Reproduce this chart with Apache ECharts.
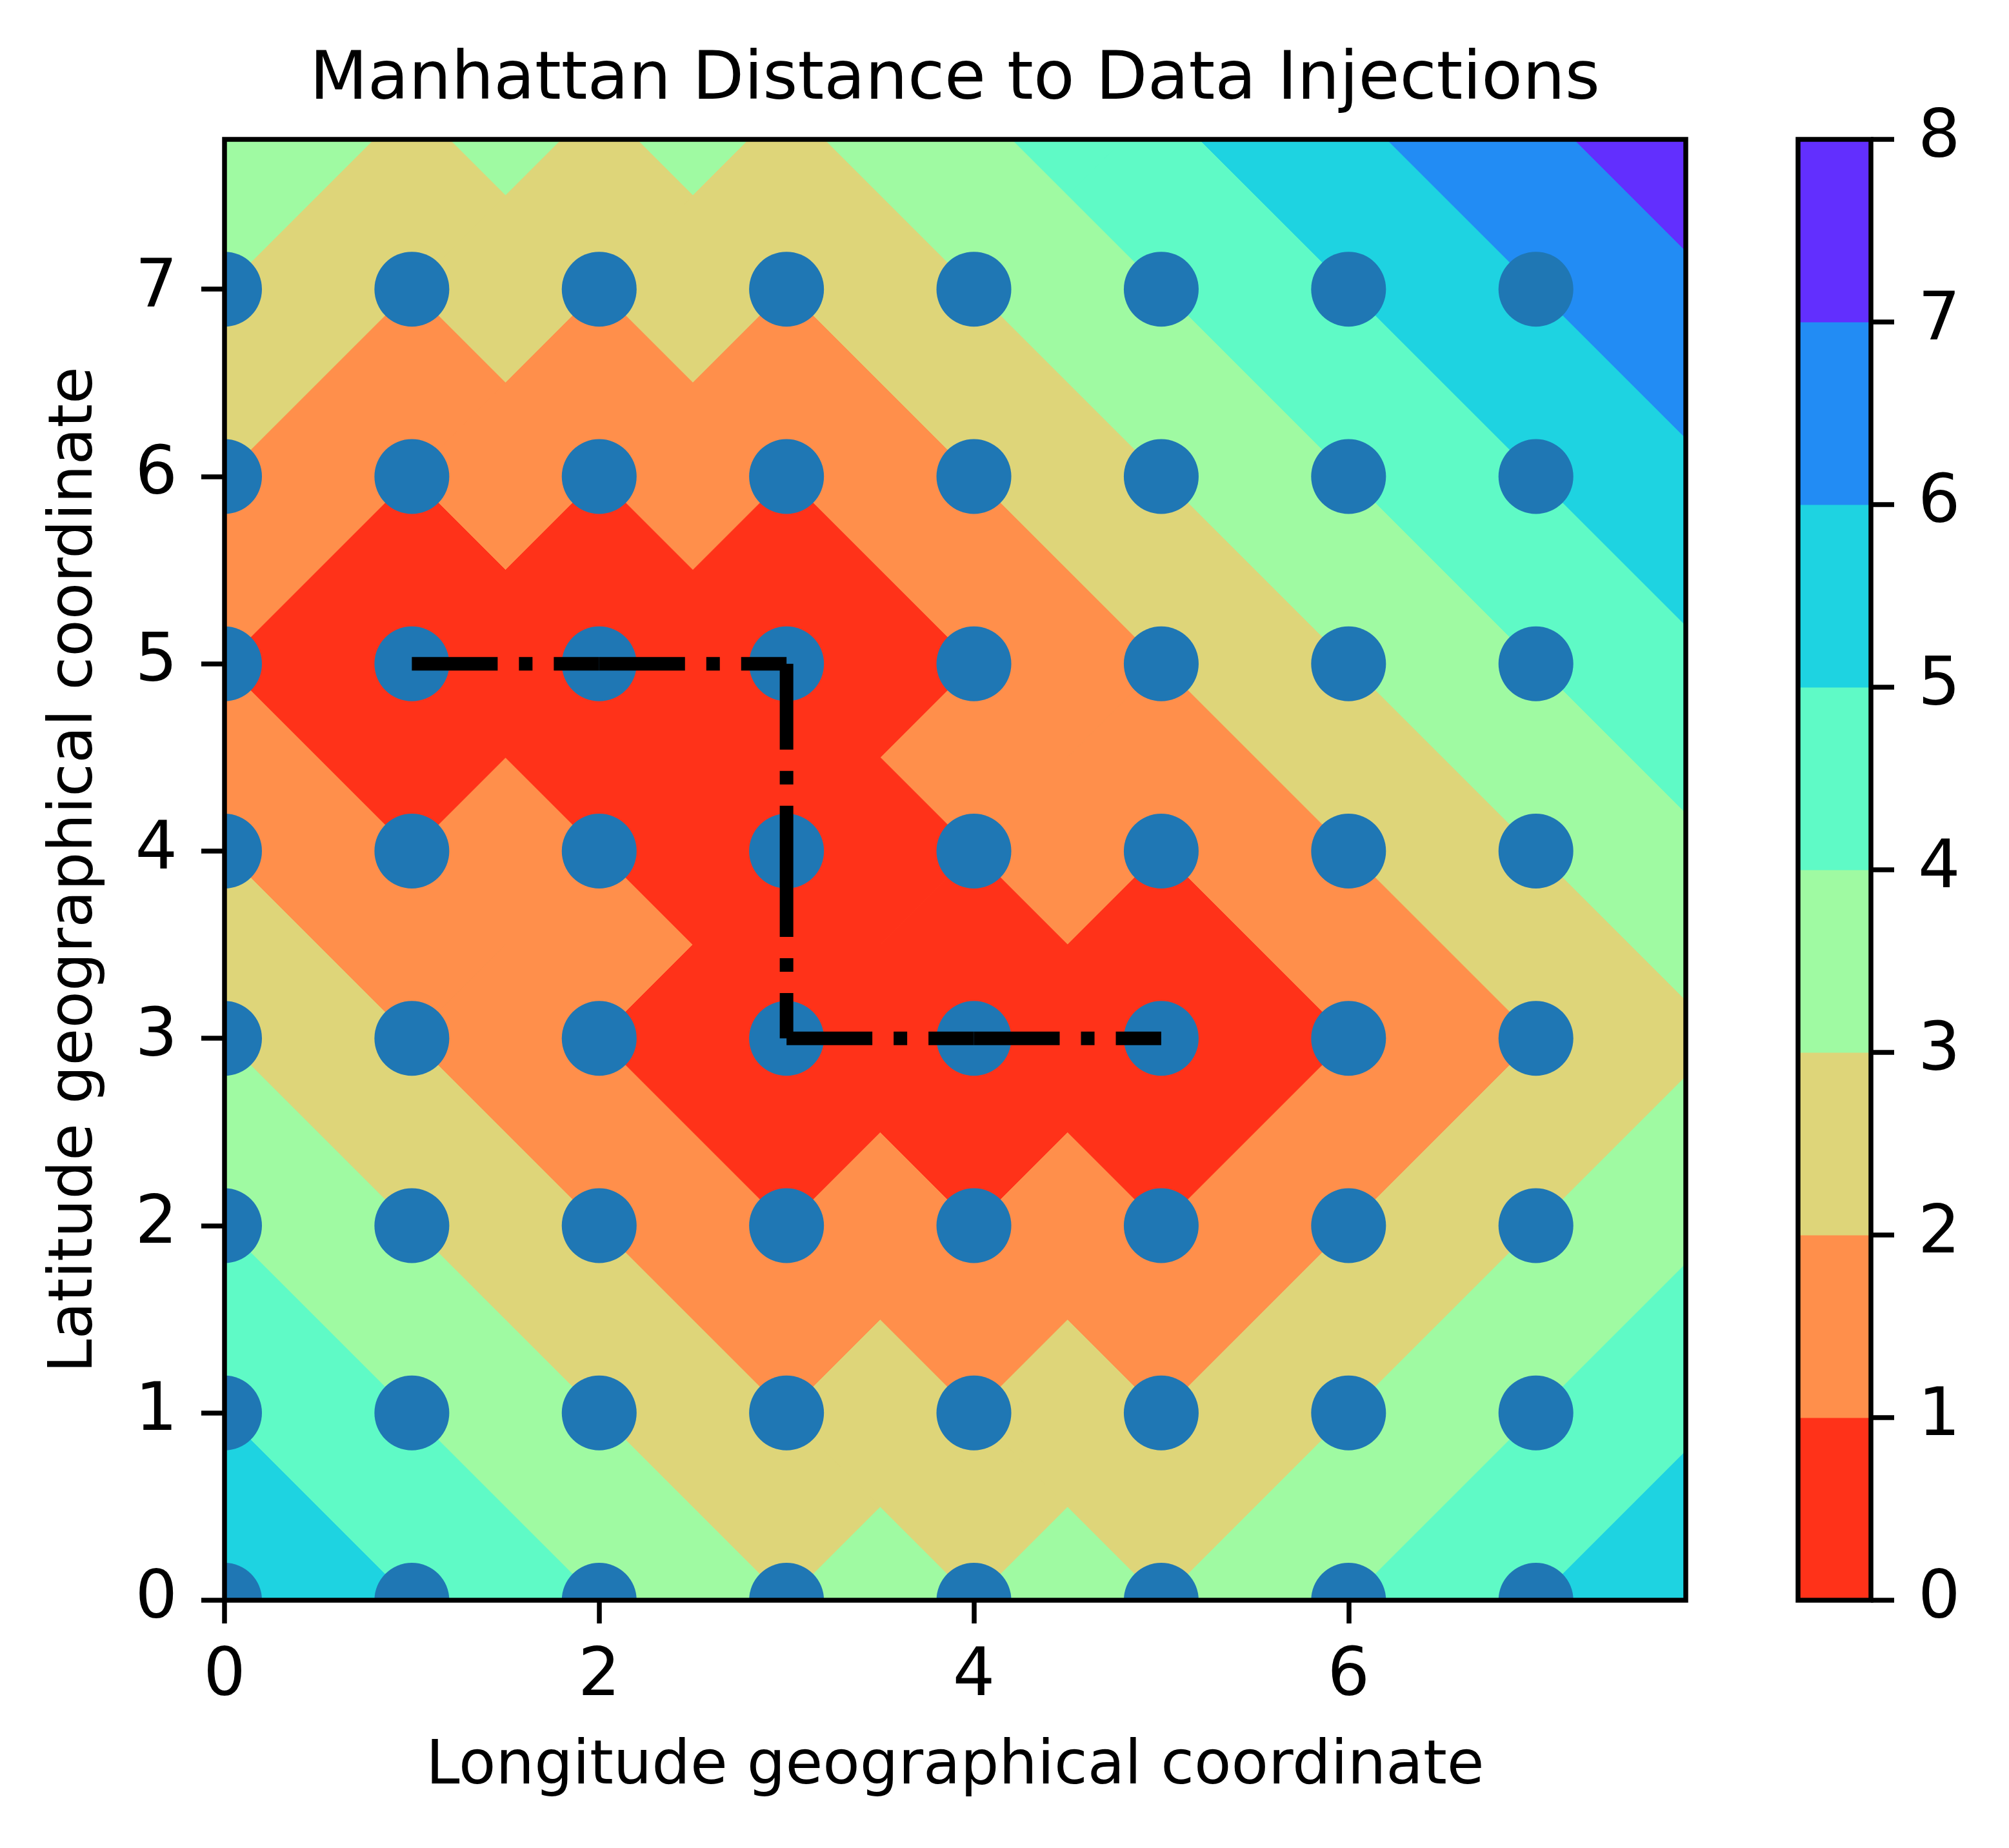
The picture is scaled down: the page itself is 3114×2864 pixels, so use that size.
<!DOCTYPE html>
<html><head><meta charset="utf-8">
<script src="https://cdn.jsdelivr.net/npm/echarts@6/dist/echarts.min.js"></script>
<style>html,body{margin:0;padding:0;background:#fff}#c{width:3114px;height:2864px}</style>
</head><body><div id="c"></div>
<script>
// ---------- data ----------
const chartTitle = 'Manhattan Distance to Data Injections';
const xName = 'Longitude geographical coordinate';
const yName = 'Latitude geographical coordinate';
// data-injection path (points visited, in order)
const injectionX = [1, 2, 3, 3, 3, 4, 5];
const injectionY = [5, 5, 5, 4, 3, 3, 3];
// sampled grid locations (blue dots)
const gridXs = [0, 1, 2, 3, 4, 5, 6, 7];
const gridYs = [0, 1, 2, 3, 4, 5, 6, 7];
// contour levels and band colours (rainbow_r)
const levels = [0, 1, 2, 3, 4, 5, 6, 7, 8];
const bandColors = ['#ff3219', '#ff8f4b', '#ded579', '#9ffaa2', '#5ffac6', '#1ed3e1', '#228cf4', '#622ffe'];
// axis extents and tick labels
const xMax = 7.8, yMax = 7.8;
const xTicks = [0, 2, 4, 6];
const yTicks = [0, 1, 2, 3, 4, 5, 6, 7];
const cbTicks = [0, 1, 2, 3, 4, 5, 6, 7, 8];

// ---------- helpers ----------
const FONT = 'DejaVu Sans';
function clipPoly(pts, x0, x1, y0, y1) {
  const edges = [
    [p => p[0] >= x0, (a, b) => { const t = (x0 - a[0]) / (b[0] - a[0]); return [x0, a[1] + t * (b[1] - a[1])]; }],
    [p => p[0] <= x1, (a, b) => { const t = (x1 - a[0]) / (b[0] - a[0]); return [x1, a[1] + t * (b[1] - a[1])]; }],
    [p => p[1] >= y0, (a, b) => { const t = (y0 - a[1]) / (b[1] - a[1]); return [a[0] + t * (b[0] - a[0]), y0]; }],
    [p => p[1] <= y1, (a, b) => { const t = (y1 - a[1]) / (b[1] - a[1]); return [a[0] + t * (b[0] - a[0]), y1]; }]
  ];
  let out = pts;
  for (const [inside, inter] of edges) {
    const inp = out; out = [];
    if (!inp.length) break;
    for (let i = 0; i < inp.length; i++) {
      const cur = inp[i], prev = inp[(i + inp.length - 1) % inp.length];
      const ci = inside(cur), pi = inside(prev);
      if (ci) { if (!pi) out.push(inter(prev, cur)); out.push(cur); }
      else if (pi) out.push(inter(prev, cur));
    }
  }
  return out;
}

// contour bands: region {d < L} is the union of Manhattan diamonds of radius L
const contourData = [];
for (let li = levels.length - 1; li >= 1; li--) {
  for (let k = 0; k < injectionX.length; k++) contourData.push([levels[li], k, li - 1]);
}
const dotData = [];
for (const y of gridYs) for (const x of gridXs) dotData.push([x, y]);
const segData = [];
for (let k = 0; k + 1 < injectionX.length; k++) segData.push([injectionX[k], injectionY[k], injectionX[k + 1], injectionY[k + 1]]);
const cbData = [];
for (let i = 0; i + 1 < levels.length; i++) cbData.push([levels[i], levels[i + 1], i]);

const tickStyle = { color: '#000', width: 7.5 };
const labelStyle = { color: '#000', fontSize: 103, fontFamily: FONT };
const nameStyle = { color: '#000', fontSize: 94, fontFamily: FONT };

const chart = echarts.init(document.getElementById('c'), null, { renderer: 'canvas' });
chart.setOption({
  animation: false,
  backgroundColor: '#fff',
  title: {
    text: chartTitle, left: 1480, top: 74, textAlign: 'center', padding: 0,
    textStyle: { color: '#000', fontSize: 104, fontWeight: 'normal', fontFamily: FONT }
  },
  grid: [
    { left: 348, top: 216, width: 2265, height: 2264, show: true, z: 10, borderColor: '#000', borderWidth: 7.5, backgroundColor: 'rgba(0,0,0,0)', containLabel: false, outerBoundsMode: 'none' },
    { left: 2787, top: 216, width: 113, height: 2264, show: true, z: 10, borderColor: '#000', borderWidth: 7.5, backgroundColor: 'rgba(0,0,0,0)', containLabel: false, outerBoundsMode: 'none' }
  ],
  xAxis: [
    {
      gridIndex: 0, type: 'value', min: 0, max: xMax, position: 'bottom', z: 10,
      axisLine: { show: false, onZero: false },
      axisTick: { show: true, inside: false, length: 36, lineStyle: tickStyle, customValues: xTicks },
      axisLabel: Object.assign({ customValues: xTicks, margin: 69 }, labelStyle),
      splitLine: { show: false },
      name: xName, nameLocation: 'middle', nameGap: 213, nameMoveOverlap: false, nameTextStyle: nameStyle
    },
    { gridIndex: 1, type: 'value', min: 0, max: 1, show: false, axisLine: { onZero: false } }
  ],
  yAxis: [
    {
      gridIndex: 0, type: 'value', min: 0, max: yMax, position: 'left', z: 10,
      axisLine: { show: false, onZero: false },
      axisTick: { show: true, inside: false, length: 36, lineStyle: tickStyle, customValues: yTicks },
      axisLabel: Object.assign({ customValues: yTicks, margin: 73, padding: [20, 0, 0, 0] }, labelStyle),
      splitLine: { show: false },
      name: yName, nameLocation: 'middle', nameGap: 183, nameRotate: 90, nameMoveOverlap: false, nameTextStyle: nameStyle
    },
    {
      gridIndex: 1, type: 'value', min: 0, max: 8, interval: 1, position: 'right', z: 10,
      axisLine: { show: false, onZero: false },
      axisTick: { show: true, inside: false, length: 36, lineStyle: tickStyle, customValues: cbTicks },
      axisLabel: Object.assign({ customValues: cbTicks, margin: 73, padding: [24, 0, 0, 0] }, labelStyle),
      splitLine: { show: false }
    }
  ],
  series: [
    {
      name: 'distance', type: 'custom', xAxisIndex: 0, yAxisIndex: 0, silent: true, clip: true,
      data: contourData,
      renderItem: function (params, api) {
        const L = api.value(0), k = api.value(1), ci = api.value(2);
        const cx = injectionX[k], cy = injectionY[k];
        const poly = clipPoly([[cx - L, cy], [cx, cy + L], [cx + L, cy], [cx, cy - L]], 0, xMax, 0, yMax);
        if (poly.length < 3) return null;
        return {
          type: 'polygon',
          shape: { points: poly.map(p => api.coord(p)) },
          style: { fill: bandColors[ci], stroke: bandColors[ci], lineWidth: 1 }
        };
      }
    },
    {
      name: 'grid points', type: 'custom', xAxisIndex: 0, yAxisIndex: 0, silent: true, clip: true,
      data: dotData,
      renderItem: function (params, api) {
        const p = api.coord([api.value(0), api.value(1)]);
        return { type: 'circle', shape: { cx: p[0], cy: p[1], r: 58 }, style: { fill: '#1f77b4' } };
      }
    },
    {
      name: 'path', type: 'custom', xAxisIndex: 0, yAxisIndex: 0, silent: true,
      data: segData,
      renderItem: function (params, api) {
        const a = api.coord([api.value(0), api.value(1)]);
        const b = api.coord([api.value(2), api.value(3)]);
        return {
          type: 'line',
          shape: { x1: a[0], y1: a[1], x2: b[0], y2: b[1] },
          style: { stroke: '#000', lineWidth: 21, lineDash: [133, 33, 21, 33], lineCap: 'butt', fill: null }
        };
      }
    },
    {
      name: 'colorbar', type: 'custom', xAxisIndex: 1, yAxisIndex: 1, silent: true,
      data: cbData,
      renderItem: function (params, api) {
        const p0 = api.coord([0, api.value(0)]);
        const p1 = api.coord([1, api.value(1)]);
        const c = bandColors[api.value(2)];
        return {
          type: 'rect',
          shape: { x: p0[0], y: p1[1], width: p1[0] - p0[0], height: p0[1] - p1[1] },
          style: { fill: c, stroke: c, lineWidth: 1 }
        };
      }
    }
  ]
});
</script>
</body></html>
